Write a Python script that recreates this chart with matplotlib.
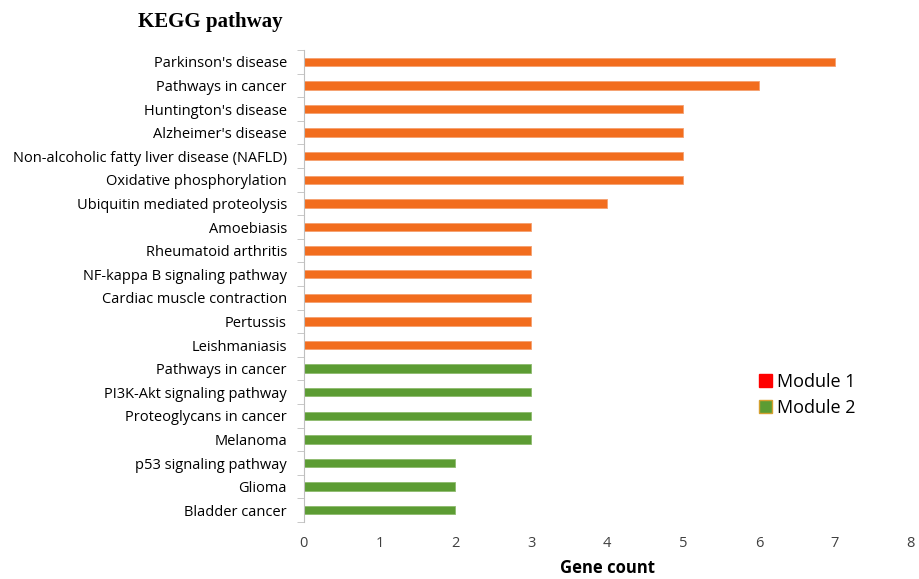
import matplotlib
matplotlib.use('Agg')
import matplotlib.pyplot as plt
import numpy as np
from matplotlib.patches import Patch

# Data
pathways_m1 = ["Parkinson's disease", "Pathways in cancer", "Huntington's disease",
               "Alzheimer's disease", "Non-alcoholic fatty liver disease (NAFLD)",
               "Oxidative phosphorylation", "Ubiquitin mediated proteolysis",
               "Amoebiasis", "Rheumatoid arthritis", "NF-kappa B signaling pathway",
               "Cardiac muscle contraction", "Pertussis", "Leishmaniasis"]
counts_m1 = [7, 6, 5, 5, 5, 5, 4, 3, 3, 3, 3, 3, 3]

pathways_m2 = ["Pathways in cancer", "PI3K-Akt signaling pathway", "Proteoglycans in cancer",
               "Melanoma", "p53 signaling pathway", "Glioma", "Bladder cancer"]
counts_m2 = [3, 3, 3, 3, 2, 2, 2]

orange = '#F26D1E'
green = '#5C9C33'

labels = pathways_m1 + pathways_m2
n1 = len(pathways_m1)
y1 = np.arange(n1)
y2 = np.arange(n1, len(labels))

fig = plt.figure(figsize=(9.2, 5.79), dpi=100)
ax = fig.add_axes([0.330, 0.0984, 0.660, 0.8152])

ax.barh(y1, counts_m1, height=0.36, color=orange, edgecolor='#F5A070', linewidth=0.6)
ax.barh(y2, counts_m2, height=0.36, color=green, edgecolor='#8DBA6E', linewidth=0.6)

ax.set_yticks(np.arange(len(labels)))
ax.set_yticklabels(labels, fontsize=10.5, family='Open Sans')
ax.set_yticks(np.arange(len(labels) + 1) - 0.5, minor=True)
ax.tick_params(axis='y', which='major', length=0, pad=12)
ax.tick_params(axis='y', which='minor', length=5, color='#BFBFBF')
ax.set_ylim(len(labels) - 0.5, -0.5)

ax.set_xlim(0, 8)
ax.set_xticks(range(0, 9))
ax.tick_params(axis='x', length=0, pad=10, labelsize=10.5, colors='#404040')
for t in ax.get_xticklabels():
    t.set_family('Open Sans')
ax.set_xlabel('Gene count', fontsize=12, fontweight='bold', family='Open Sans', labelpad=6)

for side in ['top', 'right', 'bottom']:
    ax.spines[side].set_visible(False)
ax.spines['left'].set_color('#BFBFBF')

fig.text(0.150, 0.962, 'KEGG pathway', fontsize=15, fontweight='bold',
         family='Liberation Serif', ha='left', va='center')

handles = [Patch(facecolor='#FF0000', edgecolor='#FF0000'),
           Patch(facecolor=green, edgecolor='#D4A030')]
ax.legend(handles, ['Module 1', 'Module 2'], loc='center left',
          bbox_to_anchor=(0.735, 0.27), frameon=False, handlelength=0.7,
          handleheight=0.7, handletextpad=0.3, labelspacing=0.45,
          borderpad=0, prop={'family': 'Open Sans', 'size': 13})

plt.savefig('out.png', dpi=100)
